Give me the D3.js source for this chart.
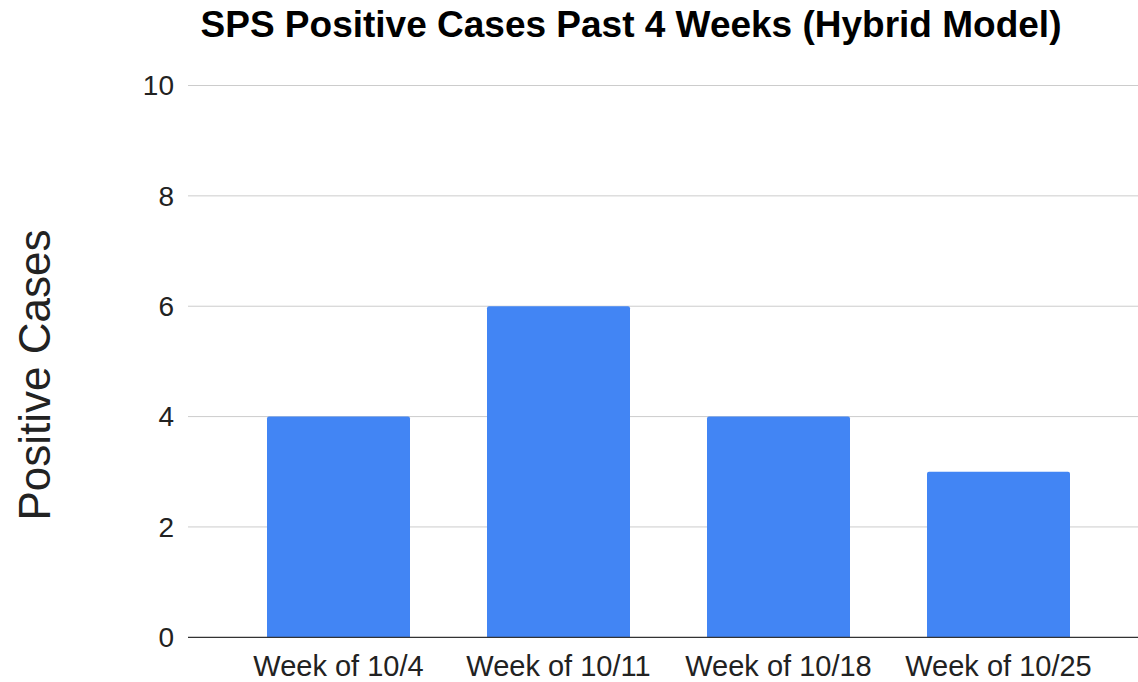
<!DOCTYPE html>
<html>
<head>
<meta charset="utf-8">
<script src="https://cdn.jsdelivr.net/npm/d3@7"></script>
<style>
  html, body { margin: 0; padding: 0; background: #fff; }
  svg { display: block; font-family: "Liberation Sans", Arial, sans-serif; }
</style>
</head>
<body>
<svg id="chart" width="1138" height="682"></svg>
<script>
const categories = ["Week of 10/4", "Week of 10/11", "Week of 10/18", "Week of 10/25"];
const values = [4, 6, 4, 3];
const yTicks = [0, 2, 4, 6, 8, 10];
const title = "SPS Positive Cases Past 4 Weeks (Hybrid Model)";
const yLabel = "Positive Cases";

const svg = d3.select("#chart");
const W = 1138, H = 682;
const plotLeft = 188, plotRight = 1138;

const y = d3.scaleLinear().domain([0, 10]).range([637.3, 85.5]);
const x = d3.scaleBand().domain(categories).range([228.5, 1108.5])
  .paddingInner(0.35).paddingOuter(0.175);

// gridlines
svg.append("g").selectAll("line").data(yTicks.filter(d => d !== 0)).join("line")
  .attr("x1", plotLeft).attr("x2", plotRight)
  .attr("y1", d => y(d)).attr("y2", d => y(d))
  .attr("stroke", "#cccccc").attr("stroke-width", 1);

// y tick labels
svg.append("g").selectAll("text").data(yTicks).join("text")
  .attr("x", 174).attr("y", d => y(d)).attr("dy", "0.35em")
  .attr("text-anchor", "end").attr("font-size", 28).attr("fill", "#222")
  .text(d => d);

// bars
svg.append("g").selectAll("path").data(values).join("path")
  .attr("fill", "#4285f4")
  .attr("d", (d, i) => {
    const x0 = x(categories[i]), w = x.bandwidth();
    const top = y(d), bot = y(0), r = 2;
    return `M${x0},${bot}L${x0},${top + r}Q${x0},${top} ${x0 + r},${top}L${x0 + w - r},${top}Q${x0 + w},${top} ${x0 + w},${top + r}L${x0 + w},${bot}Z`;
  });

// baseline
svg.append("line")
  .attr("x1", plotLeft).attr("x2", plotRight)
  .attr("y1", y(0)).attr("y2", y(0))
  .attr("stroke", "#333333").attr("stroke-width", 1.2);

// x labels
svg.append("g").selectAll("text").data(categories).join("text")
  .attr("x", d => x(d) + x.bandwidth() / 2).attr("y", 676)
  .attr("text-anchor", "middle").attr("font-size", 29).attr("fill", "#222")
  .text(d => d);

// title
svg.append("text")
  .attr("x", 631).attr("y", 37)
  .attr("text-anchor", "middle").attr("font-size", 37).attr("font-weight", "bold")
  .attr("fill", "#000")
  .text(title);

// y axis label
svg.append("text")
  .attr("transform", "translate(50,375) rotate(-90)")
  .attr("text-anchor", "middle").attr("font-size", 44).attr("fill", "#222")
  .text(yLabel);
</script>
</body>
</html>
